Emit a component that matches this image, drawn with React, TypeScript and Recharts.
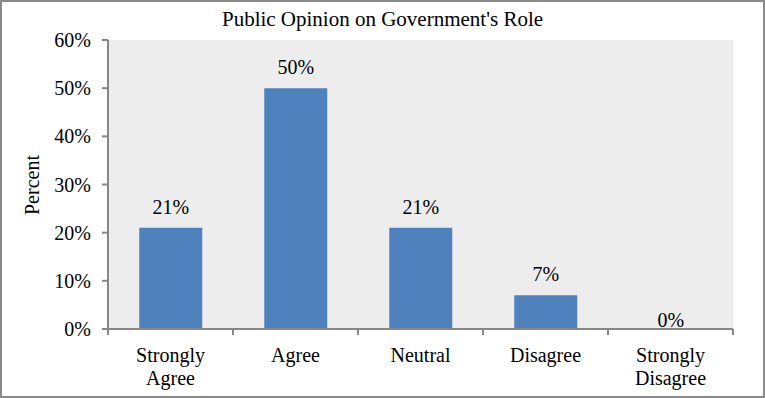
import React from 'react';
import { BarChart, Bar, XAxis, YAxis, CartesianGrid } from 'recharts';

const categories = ['Strongly Agree', 'Agree', 'Neutral', 'Disagree', 'Strongly Disagree'];
const percents = [21, 50, 21, 7, 0];
const yTicks = [0, 10, 20, 30, 40, 50, 60];
const title = "Public Opinion on Government's Role";
const yLabel = 'Percent';

const data = categories.map((c, i) => ({ name: c, value: percents[i] }));

const W = 765;
const H = 398;
const MARGIN = { top: 40, right: 32, bottom: 0, left: 48 };
const X_H = 69;
const Y_W = 60;
const PLOT_W = W - MARGIN.left - MARGIN.right - Y_W;
const FONT = '"Liberation Serif", "Times New Roman", Times, serif';
const AXIS = '#878787';

const splitLabel = (s: string) => {
  if (s.startsWith('Strongly ')) return ['Strongly', s.slice(9)];
  return [s];
};

const XTick = (props: any) => {
  const { x, y, payload, index } = props;
  const band = PLOT_W / categories.length;
  const lines = splitLabel(String(payload.value));
  const left = x - band / 2;
  return (
    <g>
      <line x1={left} y1={y - 8} x2={left} y2={y - 2} stroke={AXIS} strokeWidth={2} />
      {index === categories.length - 1 && (
        <line x1={left + band} y1={y - 8} x2={left + band} y2={y - 2} stroke={AXIS} strokeWidth={2} />
      )}
      <text x={x} y={y + 25} textAnchor="middle" style={{ fontFamily: FONT }} fontSize={20} fill="#000">
        {lines.map((l, i) => (
          <tspan key={i} x={x} dy={i === 0 ? 0 : 23}>{l}</tspan>
        ))}
      </text>
    </g>
  );
};

const BarLabel = (props: any) => {
  const { x, y, width, value } = props;
  const off = Number(value) === 0 ? 2 : 14;
  return (
    <text x={Number(x) + Number(width) / 2} y={Number(y) - off} textAnchor="middle" style={{ fontFamily: FONT }} fontSize={20} fill="#000">
      {`${value}%`}
    </text>
  );
};

export default function App() {
  return (
    <div
      style={{
        position: 'absolute',
        left: 0,
        top: 0,
        width: W,
        height: H,
        boxSizing: 'border-box',
        border: '2px solid #8a8a8a',
        background: '#fff',
        fontFamily: FONT,
      }}
    >
      <div
        style={{
          position: 'absolute',
          left: 0,
          right: 0,
          top: 5,
          textAlign: 'center',
          fontSize: 21,
          fontFamily: FONT,
          color: '#000',
        }}
      >
        {title}
      </div>
      <div style={{ position: 'absolute', left: -2, top: -2 }}>
        <BarChart width={W} height={H} data={data} margin={MARGIN} barCategoryGap="25%" style={{ fontFamily: FONT }}>
          <CartesianGrid horizontal={false} vertical={false} fill="#EDEDED" stroke="none" />
          <XAxis
            dataKey="name"
            axisLine={{ stroke: AXIS, strokeWidth: 2 }}
            tickLine={false}
            tick={<XTick />}
            interval={0}
            height={X_H}
          />
          <YAxis
            width={Y_W}
            domain={[0, 60]}
            ticks={yTicks}
            interval={0}
            tickFormatter={(v: number) => `${v}%`}
            axisLine={{ stroke: AXIS, strokeWidth: 2 }}
            tickLine={{ stroke: AXIS, strokeWidth: 2 }}
            tickSize={6}
            tickMargin={11}
            tick={{ fontFamily: FONT, fontSize: 20, fill: '#000' }}
            label={{
              content: () => (
                <text
                  x={32}
                  y={185}
                  transform="rotate(-90 32 185)"
                  textAnchor="middle"
                  dominantBaseline="central"
                  style={{ fontFamily: FONT }}
                  fontSize={20}
                  fill="#000"
                >
                  {yLabel}
                </text>
              ),
            }}
          />
          <Bar
            dataKey="value"
            fill="#4F81BD"
            isAnimationActive={false}
            minPointSize={0.01}
            label={<BarLabel />}
          />
        </BarChart>
      </div>
    </div>
  );
}
